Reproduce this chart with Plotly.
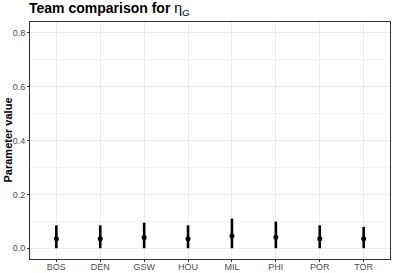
import plotly.graph_objects as go

teams = ["BOS", "DEN", "GSW", "HOU", "MIL", "PHI", "POR", "TOR"]
estimate = [0.035, 0.035, 0.040, 0.035, 0.045, 0.041, 0.035, 0.035]
lower = [0.0, 0.0, 0.0, 0.0, 0.0, 0.0, 0.0, 0.0]
upper = [0.085, 0.085, 0.095, 0.085, 0.110, 0.099, 0.085, 0.079]
y_ticks = [0.0, 0.2, 0.4, 0.6, 0.8]
y_tick_labels = ["0.0", "0.2", "0.4", "0.6", "0.8"]

err_plus = [u - e for u, e in zip(upper, estimate)]
err_minus = [e - l for e, l in zip(estimate, lower)]

fig = go.Figure()
fig.add_trace(go.Scatter(
    x=teams, y=estimate, mode="markers",
    marker=dict(color="black", size=5),
    error_y=dict(type="data", symmetric=False, array=err_plus, arrayminus=err_minus,
                 color="black", thickness=2.6, width=0),
    showlegend=False,
))

font = "Liberation Sans, Arial, Helvetica, sans-serif"
fig.update_layout(
    width=393, height=273,
    margin=dict(l=30, r=3, t=22, b=14, autoexpand=False),
    paper_bgcolor="white", plot_bgcolor="white",
    font=dict(family=font, size=9, color="#4d4d4d"),
    xaxis=dict(
        range=[-0.6, 7.6], showgrid=True, gridcolor="#ebebeb", gridwidth=0.6,
        ticks="outside", ticklen=2, tickcolor="#333333", tickwidth=0.6,
        tickfont=dict(size=9, color="#4d4d4d"), automargin=False,
        ticklabelstandoff=-3,
        showline=True, linecolor="#333333", linewidth=0.8, mirror=True,
        zeroline=False,
    ),
    yaxis=dict(
        range=[-0.04, 0.84], tickvals=y_ticks, ticktext=y_tick_labels,
        showgrid=True, gridcolor="#ebebeb", gridwidth=0.8,
        minor=dict(tickvals=[0.1, 0.3, 0.5, 0.7], showgrid=True, gridcolor="#f2f2f2", gridwidth=0.5),
        ticks="outside", ticklen=2, tickcolor="#333333", tickwidth=0.6,
        tickfont=dict(size=9, color="#4d4d4d"), automargin=False,
        showline=True, linecolor="#333333", linewidth=0.8, mirror=True,
        zeroline=False,
    ),
    annotations=[
        dict(
            text="<b>Team comparison for </b>η<sub><i>G</i></sub>",
            xref="paper", yref="paper", x=0, y=1, xanchor="left", yanchor="bottom",
            xshift=-3, yshift=2, showarrow=False, font=dict(family=font, size=14, color="black"),
        ),
        dict(
            text="<b>Parameter value</b>", textangle=-90,
            xref="paper", yref="paper", x=0, y=0.5, xanchor="center", yanchor="middle",
            xshift=-23, showarrow=False, font=dict(family=font, size=11, color="black"),
        ),
    ],
)

fig.write_html("out.html", config={"displayModeBar": False},
               post_script="document.body.style.margin='0';document.body.style.overflow='hidden';")
